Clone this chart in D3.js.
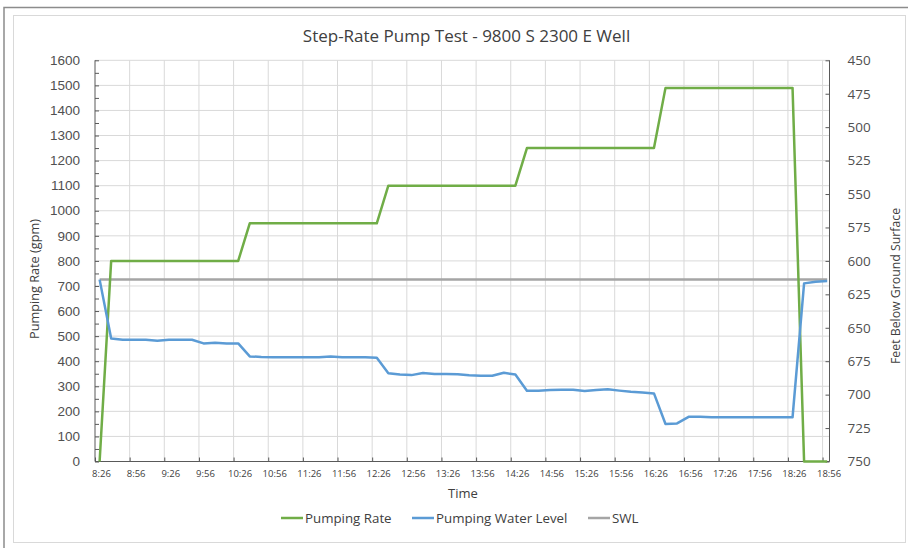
<!DOCTYPE html>
<html>
<head>
<meta charset="utf-8">
<script src="https://cdn.jsdelivr.net/npm/d3@7"></script>
<style>
  body { margin: 0; background: #fff; }
  svg { display: block; font-family: "Open Sans", sans-serif; }
</style>
</head>
<body>
<div id="chart"></div>
<script>
// readings every 10 minutes
const times = [
  "8:30", "8:40", "8:50", "9:00", "9:10", "9:20", "9:30", "9:40", "9:50", "10:00",
  "10:10", "10:20", "10:30", "10:40", "10:50", "11:00", "11:10", "11:20", "11:30", "11:40",
  "11:50", "12:00", "12:10", "12:20", "12:30", "12:40", "12:50", "13:00", "13:10", "13:20",
  "13:30", "13:40", "13:50", "14:00", "14:10", "14:20", "14:30", "14:40", "14:50", "15:00",
  "15:10", "15:20", "15:30", "15:40", "15:50", "16:00", "16:10", "16:20", "16:30", "16:40",
  "16:50", "17:00", "17:10", "17:20", "17:30", "17:40", "17:50", "18:00", "18:10", "18:20",
  "18:30", "18:40", "18:50", "19:00"
];

const pumpingRate = [
  0, 800, 800, 800, 800, 800, 800, 800, 800, 800,
  800, 800, 800, 950, 950, 950, 950, 950, 950, 950,
  950, 950, 950, 950, 950, 1100, 1100, 1100, 1100, 1100,
  1100, 1100, 1100, 1100, 1100, 1100, 1100, 1250, 1250, 1250,
  1250, 1250, 1250, 1250, 1250, 1250, 1250, 1250, 1250, 1490,
  1490, 1490, 1490, 1490, 1490, 1490, 1490, 1490, 1490, 1490,
  1490, 0, 0, 0
];

const waterLevel = [
  614, 658, 659, 659, 659, 659.7, 659, 659, 659, 661.7,
  661.2, 661.7, 661.7, 671.4, 671.8, 672, 672, 672, 672, 672,
  671.5, 672, 672, 672, 672.5, 684, 685, 685.4, 683.9, 684.5,
  684.6, 684.7, 685.5, 685.9, 685.9, 683.7, 684.9, 697.1, 697.1, 696.5,
  696.4, 696.4, 697.3, 696.5, 696, 697, 697.9, 698.4, 699.1, 722,
  721.5, 716.6, 716.6, 717, 717, 717, 717, 717, 717, 717,
  717, 616.8, 615.6, 615.1
];

const swlTimes = ["8:30", "19:00"];
const swlLevel = [614, 614];

const timeTicks = [
  "8:26", "8:56", "9:26", "9:56", "10:26", "10:56", "11:26", "11:56", "12:26", "12:56", "13:26",
  "13:56", "14:26", "14:56", "15:26", "15:56", "16:26", "16:56", "17:26", "17:56", "18:26", "18:56"
];
const timeRange = ["8:26", "19:02"];
const rateTicks = d3.range(0, 1601, 100);
const levelTicks = d3.range(450, 751, 25);

const W = 908, H = 548;
const plot = { left: 95, right: 829.5, top: 60.3, bottom: 461.5 };
const GREEN = "#70ad47", BLUE = "#5b9bd5", GREY = "#a5a5a5";
const AXIS = "#595959", GRID = "#d9d9d9", TEXT = "#505050";

const parse = d3.timeParse("%H:%M");

const x = d3.scaleTime()
    .domain(timeRange.map(parse))
    .range([plot.left, plot.right]);
const yRate = d3.scaleLinear().domain([0, 1600]).range([plot.bottom, plot.top]);
const yLevel = d3.scaleLinear().domain([750, 450]).range([plot.bottom, plot.top]);

const svg = d3.select("#chart").append("svg")
    .attr("width", W)
    .attr("height", H);

// chart frame
svg.append("rect")
    .attr("x", 4).attr("y", 7.5)
    .attr("width", W + 10).attr("height", H + 10)
    .attr("fill", "none").attr("stroke", "#8c8c8c").attr("stroke-width", 1.5);
svg.append("rect")
    .attr("x", 13.5).attr("y", 15.5)
    .attr("width", 892).attr("height", 527)
    .attr("fill", "#fff").attr("stroke", GRID);

// grid
svg.append("g")
    .selectAll("line")
    .data(rateTicks)
    .join("line")
    .attr("x1", plot.left).attr("x2", plot.right)
    .attr("y1", d => yRate(d)).attr("y2", d => yRate(d))
    .attr("stroke", GRID);
svg.append("g")
    .selectAll("line")
    .data(timeTicks.slice(1))
    .join("line")
    .attr("x1", d => x(parse(d))).attr("x2", d => x(parse(d)))
    .attr("y1", plot.top).attr("y2", plot.bottom)
    .attr("stroke", GRID);

// axes
const leftAxis = svg.append("g")
    .attr("transform", `translate(${plot.left},0)`)
    .call(d3.axisLeft(yRate).tickValues(d3.range(0, 1601, 50)).tickSize(-4).tickFormat(""));
leftAxis.append("g")
    .selectAll("text")
    .data(rateTicks)
    .join("text")
    .attr("x", -15).attr("y", d => yRate(d)).attr("dy", "0.35em")
    .attr("text-anchor", "end")
    .attr("font-size", 13.5).attr("fill", TEXT)
    .text(d => d);

const rightAxis = svg.append("g")
    .attr("transform", `translate(${plot.right},0)`)
    .call(d3.axisRight(yLevel).tickValues(levelTicks).tickSize(-4).tickPadding(18));
rightAxis.selectAll("text").attr("font-size", 13.5).attr("fill", TEXT).attr("font-family", "Open Sans");

const bottomAxis = svg.append("g")
    .attr("transform", `translate(0,${plot.bottom})`)
    .call(d3.axisBottom(x).tickValues(timeTicks.map(parse)).tickSize(-4).tickPadding(9)
        .tickFormat(d3.timeFormat("%-H:%M")));
bottomAxis.selectAll("text")
    .attr("font-size", 9.5).attr("fill", "#404040").attr("font-family", "Open Sans")
    .attr("dx", 6);

[leftAxis, rightAxis, bottomAxis].forEach(g => {
    g.select(".domain").remove();
    g.selectAll(".tick line").attr("stroke", AXIS);
});
svg.append("line")
    .attr("x1", plot.left).attr("x2", plot.left)
    .attr("y1", plot.top).attr("y2", plot.bottom).attr("stroke", AXIS);
svg.append("line")
    .attr("x1", plot.right).attr("x2", plot.right)
    .attr("y1", plot.top).attr("y2", plot.bottom).attr("stroke", AXIS);
svg.append("line")
    .attr("x1", plot.left).attr("x2", plot.right)
    .attr("y1", plot.bottom).attr("y2", plot.bottom).attr("stroke", AXIS);

// series
const rateLine = d3.line()
    .x((d, i) => x(parse(times[i])))
    .y(d => yRate(d));
const levelLine = d3.line()
    .x((d, i) => x(parse(times[i])))
    .y(d => yLevel(d));
const swlLine = d3.line()
    .x((d, i) => x(parse(swlTimes[i])))
    .y(d => yLevel(d));

svg.append("path")
    .datum(swlLevel)
    .attr("d", swlLine)
    .attr("fill", "none").attr("stroke", GREY).attr("stroke-width", 2.5);
svg.append("path")
    .datum(pumpingRate)
    .attr("d", rateLine)
    .attr("fill", "none").attr("stroke", GREEN).attr("stroke-width", 2.5)
    .attr("stroke-linejoin", "round");
svg.append("path")
    .datum(waterLevel)
    .attr("d", levelLine)
    .attr("fill", "none").attr("stroke", BLUE).attr("stroke-width", 2.5)
    .attr("stroke-linejoin", "round");

// titles
svg.append("text")
    .attr("x", 466.5).attr("y", 41.5)
    .attr("text-anchor", "middle")
    .attr("font-size", 17).attr("fill", "#404040")
    .text("Step-Rate Pump Test - 9800 S 2300 E Well");

svg.append("text")
    .attr("x", 463).attr("y", 498)
    .attr("text-anchor", "middle")
    .attr("font-size", 13).attr("fill", "#404040")
    .text("Time");

svg.append("text")
    .attr("transform", "translate(39,279) rotate(-90)")
    .attr("text-anchor", "middle")
    .attr("font-size", 12.7).attr("fill", "#404040")
    .text("Pumping Rate (gpm)");

svg.append("text")
    .attr("transform", "translate(900,286) rotate(-90)")
    .attr("text-anchor", "middle")
    .attr("font-size", 12.3).attr("fill", "#404040")
    .text("Feet Below Ground Surface");

// legend
const legendItems = [
    { name: "Pumping Rate", color: GREEN, x: 281 },
    { name: "Pumping Water Level", color: BLUE, x: 412 },
    { name: "SWL", color: GREY, x: 588 }
];
const legend = svg.append("g")
    .selectAll("g")
    .data(legendItems)
    .join("g")
    .attr("transform", d => `translate(${d.x},518)`);
legend.append("line")
    .attr("x1", 0).attr("x2", 22)
    .attr("stroke", d => d.color).attr("stroke-width", 2.5);
legend.append("text")
    .attr("x", 24).attr("dy", "0.35em")
    .attr("font-size", 13.3).attr("fill", "#404040")
    .text(d => d.name);
</script>
</body>
</html>
